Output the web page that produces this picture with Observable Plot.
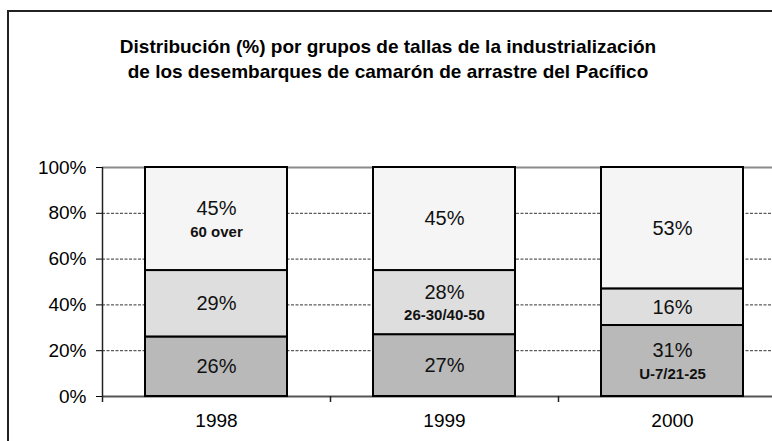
<!DOCTYPE html>
<html>
<head>
<meta charset="utf-8">
<script src="https://cdn.jsdelivr.net/npm/d3@7"></script>
<script src="https://cdn.jsdelivr.net/npm/@observablehq/plot@0.6"></script>
<style>
  html, body { margin: 0; padding: 0; overflow: hidden; background: #fff; width: 772px; height: 441px; }
  body { font-family: "Liberation Sans", Arial, sans-serif; position: relative; }
  #page { position: relative; width: 772px; height: 441px; overflow: hidden; }
  #title { position: absolute; left: 0; top: 34px; width: 776px; text-align: center;
           font: bold 19px/25px "Liberation Sans", Arial, sans-serif; color: #000; }
  #chart { position: absolute; left: 0; top: 140px; width: 772px; height: 301px; overflow: hidden; }
  #chart svg { max-width: none !important; }
  #frame { position: absolute; left: 7px; top: 10px; width: 800px; height: 500px;
           border-left: 2px solid #222; border-top: 2px solid #222; pointer-events: none; }
</style>
</head>
<body>
<div id="page">
<div id="title">Distribución (%) por grupos de tallas de la industrialización<br>de los desembarques de camarón de arrastre del Pacífico</div>
<div id="chart"></div>
<div id="frame"></div>
</div>
<script>
// ---- data ----
const years = ["1998", "1999", "2000"];
const groups = ["U-7/21-25", "26-30/40-50", "60 over"];   // bottom → top
const valuesSmall = [26, 27, 31];   // U-7/21-25
const valuesMid   = [29, 28, 16];   // 26-30/40-50
const valuesLarge = [45, 45, 53];   // 60 over
const groupLabelYear = ["2000", "1999", "1998"]; // year whose segment shows the group name
const yTicks = [0, 20, 40, 60, 80, 100];
const fills = ["#b9b9b9", "#dedede", "#f5f5f5"];

const seriesValues = [valuesSmall, valuesMid, valuesLarge];
const rows = [];
years.forEach((yr, i) => {
  groups.forEach((g, j) => {
    rows.push({year: yr, group: g, value: seriesValues[j][i], sub: groupLabelYear[j] === yr});
  });
});

const W = 786, ML = 102, MR = 0;
const step = (W - ML - MR) / years.length;

const chart = Plot.plot({
  width: W,
  height: 301,
  marginTop: 27,
  marginBottom: 45,
  marginLeft: ML,
  marginRight: MR,
  style: {fontFamily: "'Liberation Sans', Arial, sans-serif", fontSize: "19px", color: "#000", background: "transparent", maxWidth: "none"},
  x: {domain: years, paddingInner: 0.376, paddingOuter: 0.188, tickSize: 0, tickPadding: 17, label: null},
  y: {domain: [0, 100], ticks: yTicks, tickFormat: d => d + "%", tickSize: 6, tickPadding: 10, label: null},
  color: {domain: groups, range: fills},
  marks: [
    Plot.ruleY([20, 40, 60, 80], {stroke: "#333", strokeWidth: 1, strokeDasharray: "3,1.5"}),
    Plot.ruleY([100], {stroke: "#8a8a8a", strokeWidth: 2}),
    Plot.ruleY([0], {stroke: "#555", strokeWidth: 2}),
    Plot.barY(rows, {x: "year", y: "value", fill: "group", stroke: "#000", strokeWidth: 2}),
    Plot.text(rows, Plot.stackY({x: "year", y: "value", text: d => d.sub ? "" : d.value + "%", fontSize: 20, fill: "#111"})),
    Plot.text(rows, Plot.stackY({x: "year", y: "value", text: d => d.sub ? d.value + "%" : "", fontSize: 20, fill: "#111", dy: -10})),
    Plot.text(rows, Plot.stackY({x: "year", y: "value", text: d => d.sub ? d.group : "", fontSize: 15, fontWeight: "bold", fill: "#111", dy: 13})),
    // y axis line
    Plot.ruleX([years[0]], {dx: -step / 2, y1: 100, y2: 0, insetBottom: -6, stroke: "#222", strokeWidth: 1.5}),
    // category boundary ticks
    Plot.ruleX(years, {dx: step / 2, y1: 0, y2: 0, insetBottom: -6, stroke: "#222", strokeWidth: 1.5})
  ]
});
document.getElementById("chart").appendChild(chart);
</script>
</body>
</html>
